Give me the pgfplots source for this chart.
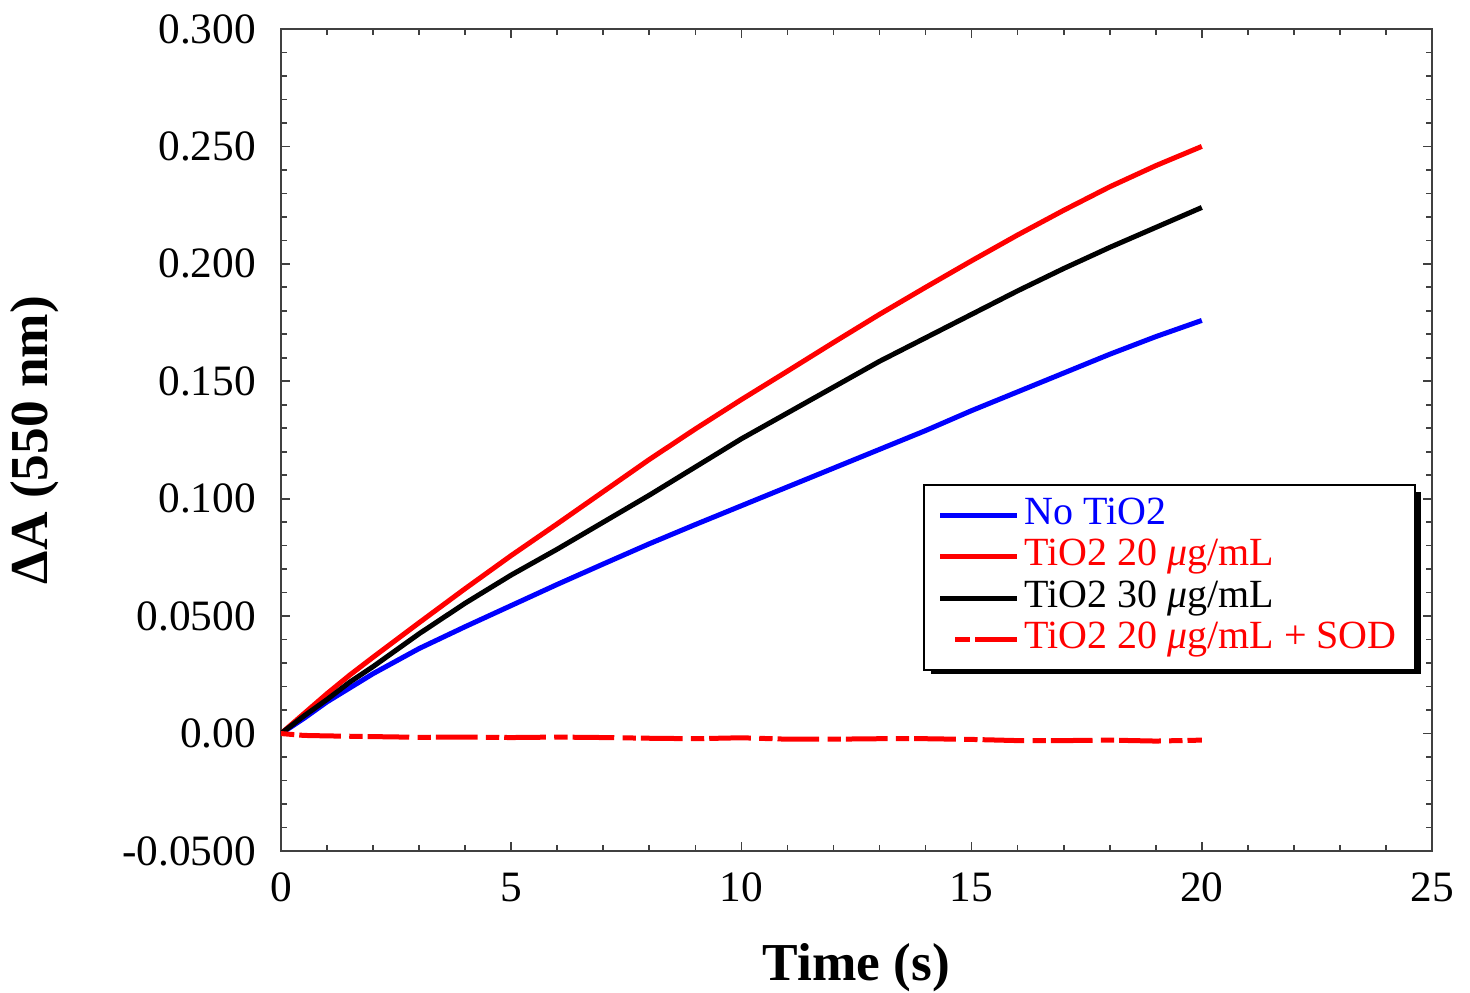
\documentclass[border=0pt]{standalone}
\usepackage{fontspec}
\setmainfont{Liberation Serif}
\usepackage{pgfplots}
\pgfplotsset{compat=1.18}
\definecolor{cblue}{RGB}{0,0,255}
\definecolor{cred}{RGB}{255,0,0}
\pgfplotsset{sodleg/.style={legend image code/.code={\draw[##1, solid] (4.5pt,0pt) -- (9pt,0pt); \draw[##1, solid] (10.5pt,0pt) -- (23pt,0pt);}}}
\begin{document}
\begin{tikzpicture}
\begin{axis}[
  name=ax,
  scale only axis,
  width=345.3pt, height=246.6pt,
  xmin=0, xmax=25, ymin=-0.05, ymax=0.3,
  xtick={0,5,10,15,20,25},
  xticklabels={0,5,10,15,20,25},
  ytick={-0.05,0,0.05,0.1,0.15,0.2,0.25,0.3},
  yticklabels={-0.0500,0.00,0.0500,0.100,0.150,0.200,0.250,0.300},
  minor x tick num=4, minor y tick num=4,
  tick align=inside,
  major tick length=2.8pt, minor tick length=1.8pt,
  tick style={black!75, line width=0.5pt},
  axis line style={black!75, line width=0.6pt},
  tick label style={font=\fontsize{13}{13}\selectfont},
  xticklabel style={yshift=-3pt},
  yticklabel style={xshift=-4pt},
  xlabel={\textbf{Time (s)}},
  ylabel={\textbf{ΔA (550 nm)}},
  label style={font=\fontsize{16}{16}\selectfont},
  xlabel style={at={(axis description cs:0.5,-0.142)}, anchor=center},
  ylabel style={at={(axis description cs:-0.2137,0.5)}, anchor=center, rotate=0},
  legend image code/.code={\draw[#1] (0pt,0pt) -- (23pt,0pt);},
  legend cell align=left,
  legend style={at={(rel axis cs:0.558,0.4465)}, anchor=north west,
    draw=black, line width=0.6pt, fill=white,
    inner xsep=4pt, inner ysep=3pt, row sep=0pt,
    nodes={inner xsep=1.5pt, inner ysep=0.7pt, text height=8.2pt, text depth=2.8pt, font=\fontsize{12}{12}\selectfont}},
]
\addplot[cblue, line width=1.5pt] coordinates {
(0,0) (0.5,0.0065) (1,0.0135) (1.5,0.0195) (2,0.0255) (3,0.0362) (4,0.0455) (5,0.0545) (6,0.0635) (7,0.0722) (8,0.0808) (9,0.089) (10,0.097) (11,0.105) (12,0.113) (13,0.121) (14,0.129) (15,0.1375) (16,0.1455) (17,0.1535) (18,0.1615) (19,0.169) (20,0.1759)};
\addlegendentry{\textcolor{cblue}{No TiO2}}
\addplot[cred, line width=1.5pt] coordinates {
(0,0) (0.5,0.0085) (1,0.017) (1.5,0.025) (2,0.0325) (3,0.0472) (4,0.0617) (5,0.0758) (6,0.0893) (7,0.103) (8,0.1167) (9,0.1297) (10,0.1422) (11,0.1543) (12,0.1665) (13,0.1785) (14,0.190) (15,0.2013) (16,0.2123) (17,0.2228) (18,0.2328) (19,0.2418) (20,0.250)};
\addlegendentry{\textcolor{cred}{TiO2 20 \textit{μ}g/mL}}
\addplot[black, line width=1.5pt] coordinates {
(0,0) (0.5,0.0075) (1,0.0145) (1.5,0.022) (2,0.0285) (3,0.0425) (4,0.0555) (5,0.0675) (6,0.0785) (7,0.0900) (8,0.1015) (9,0.1135) (10,0.1255) (11,0.1365) (12,0.1475) (13,0.1585) (14,0.1685) (15,0.1785) (16,0.1885) (17,0.198) (18,0.207) (19,0.2155) (20,0.224)};
\addlegendentry{TiO2 30 \textit{μ}g/mL}
\addplot[cred, line width=1.5pt, dash pattern=on 4pt off 1.5pt on 12.5pt off 2.5pt, sodleg] coordinates {
(0,0) (0.5,-0.0008) (1,-0.0010) (2,-0.0013) (3,-0.0016) (4,-0.0015) (5,-0.0017) (6,-0.0015) (7,-0.0017) (8,-0.0020) (9,-0.0022) (10,-0.0018) (11,-0.0024) (12,-0.0024) (13,-0.0022) (14,-0.0022) (15,-0.0025) (16,-0.0030) (17,-0.0030) (18,-0.0028) (19,-0.0032) (20,-0.0028)};
\addlegendentry{\textcolor{cred}{TiO2 20 \textit{μ}g/mL + SOD}}
\fill[black] (rel axis cs:0.5647,0.4367) rectangle (rel axis cs:0.9905,0.2150);
\end{axis}
\pgfresetboundingbox
\path ([shift={(-84.3pt,-42.6pt)}]ax.south west) rectangle ([shift={(11.4pt,8.7pt)}]ax.north east);
\end{tikzpicture}
\end{document}
